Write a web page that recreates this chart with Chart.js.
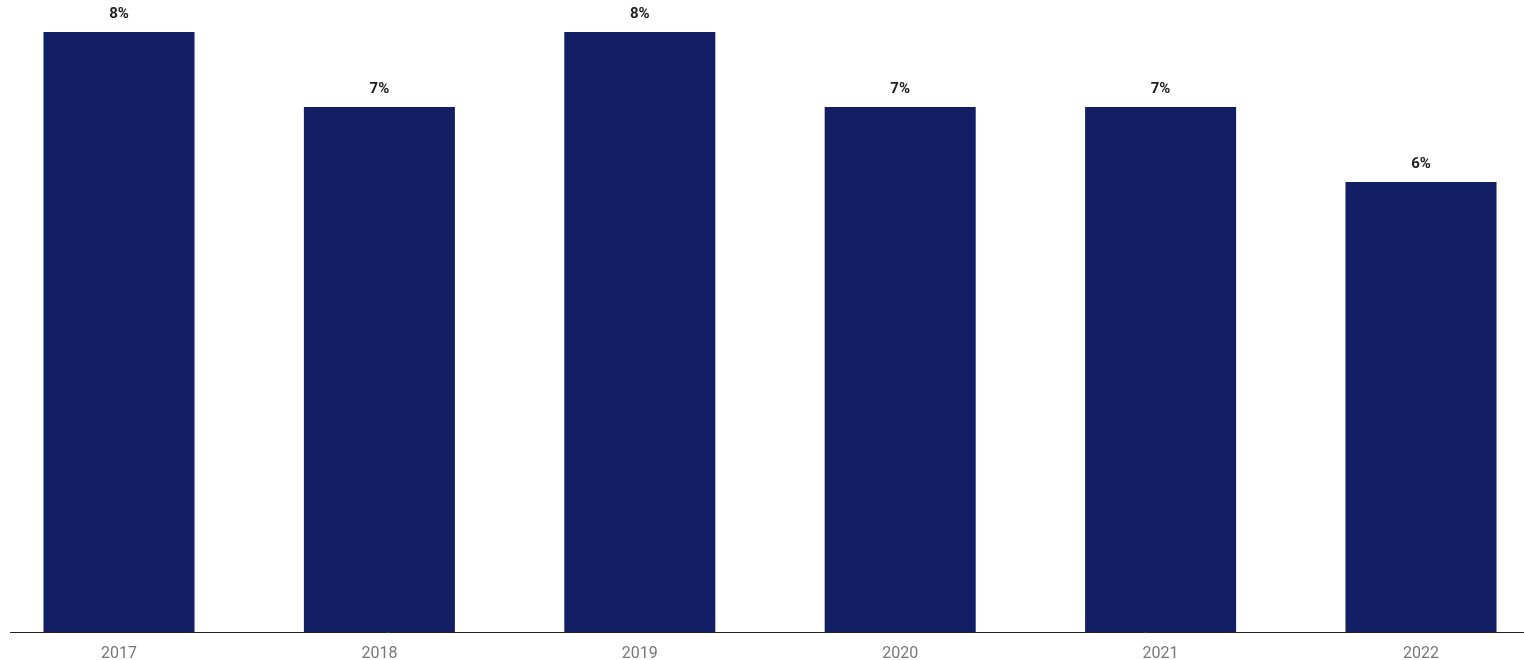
<!DOCTYPE html>
<html>
<head>
<meta charset="utf-8">
<script src="https://cdn.jsdelivr.net/npm/chart.js@4/dist/chart.umd.min.js"></script>
<style>
  html, body { margin: 0; padding: 0; background: #fff; }
  #wrap { width: 1524px; height: 660px; position: relative; }
</style>
</head>
<body>
<div id="wrap"><canvas id="chart"></canvas></div>
<script>
// chart data
const years  = ['2017', '2018', '2019', '2020', '2021', '2022'];
const shares = [8, 7, 8, 7, 7, 6];   // percent
const yMax   = 8;

const barColor = '#121F64';

// value labels above each bar
const valueLabels = {
  id: 'valueLabels',
  afterDatasetsDraw(chart) {
    const ctx = chart.ctx;
    const meta = chart.getDatasetMeta(0);
    ctx.save();
    ctx.font = 'bold 15px Roboto, "Noto Sans", sans-serif';
    ctx.fillStyle = '#222';
    ctx.textAlign = 'center';
    ctx.textBaseline = 'bottom';
    meta.data.forEach((bar, i) => {
      ctx.fillText(shares[i] + '%', bar.x, bar.y - 10);
    });
    ctx.restore();
  }
};

// baseline runs across almost the full width
const baseline = {
  id: 'baseline',
  afterDatasetsDraw(chart) {
    const ctx = chart.ctx;
    const y = Math.round(chart.scales.y.getPixelForValue(0)) + 0.5;
    ctx.save();
    ctx.strokeStyle = '#222';
    ctx.lineWidth = 1;
    ctx.beginPath();
    ctx.moveTo(10, y);
    ctx.lineTo(chart.width, y);
    ctx.stroke();
    ctx.restore();
  }
};

new Chart(document.getElementById('chart'), {
  type: 'bar',
  data: {
    labels: years,
    datasets: [{
      data: shares,
      backgroundColor: barColor,
      borderWidth: 0,
      barPercentage: 1,
      categoryPercentage: 0.58,
      clip: false
    }]
  },
  options: {
    responsive: true,
    maintainAspectRatio: false,
    animation: false,
    layout: { padding: { top: 32, left: 119, right: 103, bottom: 0 } },
    plugins: { legend: { display: false }, tooltip: { enabled: false } },
    scales: {
      x: {
        offset: false,
        grid: { display: false, drawTicks: false },
        border: { display: false },
        ticks: { color: '#777', padding: 12, font: { family: 'Roboto, "Noto Sans", sans-serif', size: 16 } },
        afterFit(scale) { scale.height = 28; }
      },
      y: {
        display: false,
        min: 0,
        max: yMax
      }
    }
  },
  plugins: [valueLabels, baseline]
});
</script>
</body>
</html>
